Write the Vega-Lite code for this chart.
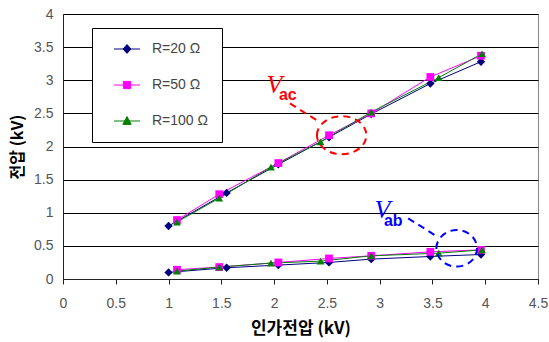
{
  "$schema": "https://vega.github.io/schema/vega-lite/v6.json",
  "width": 475,
  "height": 265,
  "autosize": {"type": "none"},
  "padding": {"left": 63, "top": 14, "right": 11, "bottom": 63},
  "background": "white",
  "config": {
    "view": {"stroke": "#888888", "strokeWidth": 1},
    "font": "Liberation Sans"
  },
  "datasets": {
    "pts": [
      {"s": "R=20 Ω", "g": "ac", "x": 1.0, "y": 0.80},
      {"s": "R=20 Ω", "g": "ac", "x": 1.55, "y": 1.30},
      {"s": "R=20 Ω", "g": "ac", "x": 2.04, "y": 1.73},
      {"s": "R=20 Ω", "g": "ac", "x": 2.52, "y": 2.14},
      {"s": "R=20 Ω", "g": "ac", "x": 2.92, "y": 2.49},
      {"s": "R=20 Ω", "g": "ac", "x": 3.48, "y": 2.95},
      {"s": "R=20 Ω", "g": "ac", "x": 3.96, "y": 3.28},
      {"s": "R=50 Ω", "g": "ac", "x": 1.08, "y": 0.89},
      {"s": "R=50 Ω", "g": "ac", "x": 1.48, "y": 1.28},
      {"s": "R=50 Ω", "g": "ac", "x": 2.04, "y": 1.75},
      {"s": "R=50 Ω", "g": "ac", "x": 2.52, "y": 2.17},
      {"s": "R=50 Ω", "g": "ac", "x": 2.92, "y": 2.50},
      {"s": "R=50 Ω", "g": "ac", "x": 3.48, "y": 3.05},
      {"s": "R=50 Ω", "g": "ac", "x": 3.96, "y": 3.37},
      {"s": "R=100 Ω", "g": "ac", "x": 1.08, "y": 0.86},
      {"s": "R=100 Ω", "g": "ac", "x": 1.48, "y": 1.22},
      {"s": "R=100 Ω", "g": "ac", "x": 1.97, "y": 1.69},
      {"s": "R=100 Ω", "g": "ac", "x": 2.44, "y": 2.07},
      {"s": "R=100 Ω", "g": "ac", "x": 2.92, "y": 2.52},
      {"s": "R=100 Ω", "g": "ac", "x": 3.56, "y": 3.04},
      {"s": "R=100 Ω", "g": "ac", "x": 3.97, "y": 3.40},
      {"s": "R=20 Ω", "g": "ab", "x": 1.0, "y": 0.10},
      {"s": "R=20 Ω", "g": "ab", "x": 1.55, "y": 0.17},
      {"s": "R=20 Ω", "g": "ab", "x": 2.04, "y": 0.21},
      {"s": "R=20 Ω", "g": "ab", "x": 2.52, "y": 0.25},
      {"s": "R=20 Ω", "g": "ab", "x": 2.92, "y": 0.30},
      {"s": "R=20 Ω", "g": "ab", "x": 3.48, "y": 0.34},
      {"s": "R=20 Ω", "g": "ab", "x": 3.96, "y": 0.37},
      {"s": "R=50 Ω", "g": "ab", "x": 1.08, "y": 0.14},
      {"s": "R=50 Ω", "g": "ab", "x": 1.48, "y": 0.18},
      {"s": "R=50 Ω", "g": "ab", "x": 2.04, "y": 0.25},
      {"s": "R=50 Ω", "g": "ab", "x": 2.52, "y": 0.31},
      {"s": "R=50 Ω", "g": "ab", "x": 2.92, "y": 0.35},
      {"s": "R=50 Ω", "g": "ab", "x": 3.48, "y": 0.41},
      {"s": "R=50 Ω", "g": "ab", "x": 3.96, "y": 0.44},
      {"s": "R=100 Ω", "g": "ab", "x": 1.08, "y": 0.12},
      {"s": "R=100 Ω", "g": "ab", "x": 1.48, "y": 0.18},
      {"s": "R=100 Ω", "g": "ab", "x": 1.97, "y": 0.24},
      {"s": "R=100 Ω", "g": "ab", "x": 2.44, "y": 0.27},
      {"s": "R=100 Ω", "g": "ab", "x": 2.92, "y": 0.35},
      {"s": "R=100 Ω", "g": "ab", "x": 3.56, "y": 0.39},
      {"s": "R=100 Ω", "g": "ab", "x": 3.97, "y": 0.44}
    ]
  },
  "encoding": {
    "x": {
      "field": "x", "type": "quantitative",
      "scale": {"domain": [0, 4.5], "nice": false, "zero": false},
      "axis": {
        "title": "인가전압 (kV)", "values": [0, 0.5, 1, 1.5, 2, 2.5, 3, 3.5, 4, 4.5],
        "labelExpr": "'' + datum.value",
        "grid": false, "domainColor": "#222", "tickColor": "#222", "tickSize": 5,
        "encode": {"ticks": {"update": {"y2": {"value": -5}}}},
        "labelFont": "Liberation Sans", "labelFontSize": 14, "labelColor": "#555",
        "labelPadding": 12, "labelFlush": false,
        "titleFont": "Noto Sans CJK KR", "titleFontSize": 17, "titleFontWeight": "bold",
        "titleColor": "#000", "titlePadding": 10
      }
    },
    "y": {
      "field": "y", "type": "quantitative",
      "scale": {"domain": [0, 4], "nice": false, "zero": false},
      "axis": {
        "title": "전압 (kV)", "values": [0, 0.5, 1, 1.5, 2, 2.5, 3, 3.5, 4],
        "labelExpr": "'' + datum.value",
        "grid": true, "gridColor": "#000", "gridOpacity": 1, "gridWidth": 1,
        "ticks": false, "domainColor": "#222",
        "labelFont": "Liberation Sans", "labelFontSize": 14, "labelColor": "#555",
        "labelPadding": 10, "labelFlush": false,
        "titleFont": "Noto Sans CJK KR", "titleFontSize": 16, "titleFontWeight": "bold",
        "titleColor": "#000", "titlePadding": 8
      }
    },
    "color": {
      "field": "s", "type": "nominal",
      "scale": {"domain": ["R=20 Ω", "R=50 Ω", "R=100 Ω"], "range": ["#000080", "#ff00ff", "#008000"]},
      "legend": {
        "title": null, "orient": "none", "legendX": 29, "legendY": 14,
        "padding": 14, "rowPadding": 22, "strokeColor": "#000", "fillColor": "#fff",
        "labelFont": "Liberation Sans", "labelFontSize": 14, "labelColor": "#444",
        "symbolSize": 64, "symbolOffset": 14, "labelOffset": 18,
        "encode": {
          "symbols": {
            "update": {
              "shape": {"signal": "datum.value == 'R=20 Ω' ? 'M -3.25 0 L 3.25 0 M 0 -1.1 L 1 0 L 0 1.1 L -1 0 Z' : datum.value == 'R=50 Ω' ? 'M -3.25 0 L 3.25 0 M -0.9 -0.9 L 0.9 -0.9 L 0.9 0.9 L -0.9 0.9 Z' : 'M -3.25 0 L 3.25 0 M 0 -1.1 L 1.05 0.85 L -1.05 0.85 Z'"},
              "fill": {"scale": "color", "field": "value"},
              "stroke": {"scale": "color", "field": "value"},
              "strokeWidth": {"value": 1},
              "opacity": {"value": 1},
              "fillOpacity": {"value": 1}
            }
          }
        }
      }
    }
  },
  "layer": [
    {
      "data": {"name": "pts"},
      "mark": {"type": "line", "strokeWidth": 1},
      "encoding": {
        "detail": {"field": "g"}
      }
    },
    {
      "data": {"name": "pts"},
      "transform": [{"filter": "datum.s == 'R=20 Ω'"}],
      "mark": {"type": "point", "filled": true, "size": 70, "opacity": 1, "shape": "diamond"}
    },
    {
      "data": {"name": "pts"},
      "transform": [{"filter": "datum.s == 'R=50 Ω'"}],
      "mark": {"type": "point", "filled": true, "size": 60, "opacity": 1, "shape": "square"}
    },
    {
      "data": {"name": "pts"},
      "transform": [{"filter": "datum.s == 'R=100 Ω'"}],
      "mark": {"type": "point", "filled": true, "size": 60, "opacity": 1, "shape": "triangle-up"}
    },
    {
      "data": {"values": [{"x": 2.64, "y": 2.17}]},
      "mark": {"type": "point", "shape": "M -1 0 A 1 0.77 0 1 1 1 0 A 1 0.77 0 1 1 -1 0 Z", "size": 2440, "filled": false, "stroke": "#ff0000", "strokeWidth": 2, "strokeDash": [7, 5], "opacity": 1},
      "encoding": {"color": {"value": "#ff0000"}}
    },
    {
      "data": {"values": [{"x": 3.73, "y": 0.463}]},
      "mark": {"type": "point", "shape": "M -1 0 A 1 0.9 0 1 1 1 0 A 1 0.9 0 1 1 -1 0 Z", "size": 1650, "filled": false, "stroke": "#0000ff", "strokeWidth": 2, "strokeDash": [7, 5], "opacity": 1},
      "encoding": {"color": {"value": "#0000ff"}}
    },
    {
      "data": {"values": [{"x": 2.15, "y": 2.65, "x2": 2.40, "y2": 2.40}]},
      "mark": {"type": "rule", "strokeWidth": 2, "strokeDash": [7, 5]},
      "encoding": {"x2": {"field": "x2"}, "y2": {"field": "y2"}, "color": {"value": "#ff0000"}}
    },
    {
      "data": {"values": [{"x": 3.27, "y": 0.916, "x2": 3.555, "y2": 0.63}]},
      "mark": {"type": "rule", "strokeWidth": 2, "strokeDash": [7, 5]},
      "encoding": {"x2": {"field": "x2"}, "y2": {"field": "y2"}, "color": {"value": "#0000ff"}}
    },
    {
      "data": {"values": [{"x": 2.003, "y": 2.807, "t": "V"}]},
      "mark": {"type": "text", "font": "Liberation Serif", "fontStyle": "italic", "fontSize": 26, "align": "center", "baseline": "alphabetic"},
      "encoding": {"text": {"field": "t"}, "color": {"value": "#ff0000"}}
    },
    {
      "data": {"values": [{"x": 3.027, "y": 0.921, "t": "V"}]},
      "mark": {"type": "text", "font": "Liberation Serif", "fontStyle": "italic", "fontSize": 26, "align": "center", "baseline": "alphabetic"},
      "encoding": {"text": {"field": "t"}, "color": {"value": "#0000ff"}}
    },
    {
      "data": {"values": [{"x": 2.046, "y": 2.70, "t": "ac"}]},
      "mark": {"type": "text", "font": "Liberation Sans", "fontWeight": "bold", "fontSize": 16, "align": "left", "baseline": "alphabetic"},
      "encoding": {"text": {"field": "t"}, "color": {"value": "#ff0000"}}
    },
    {
      "data": {"values": [{"x": 3.04, "y": 0.80, "t": "ab"}]},
      "mark": {"type": "text", "font": "Liberation Sans", "fontWeight": "bold", "fontSize": 16, "align": "left", "baseline": "alphabetic"},
      "encoding": {"text": {"field": "t"}, "color": {"value": "#0000ff"}}
    }
  ]
}
